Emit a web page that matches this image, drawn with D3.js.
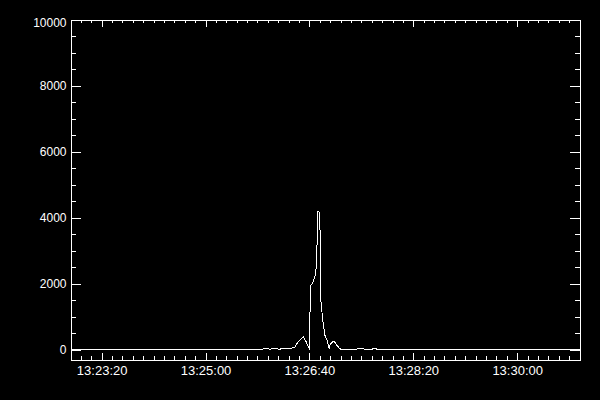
<!DOCTYPE html>
<html>
<head>
<meta charset="utf-8">
<script src="https://cdn.jsdelivr.net/npm/d3@7"></script>
<style>
    html, body { margin: 0; padding: 0; background: #000; }
    svg { display: block; }
    .axis text { font-family: 'Liberation Sans', Arial, sans-serif; fill: #FFF; }
    .axis line, .axis path { stroke: #FFF; shape-rendering: crispEdges; }
</style>
</head>
<body>
<div id="chart"></div>
<script>
// ========================================
// Light curve — IDL style plot (D3.js)
// ========================================

// Sample times and counts
const times = [
    '13:22:50', '13:25:54', '13:25:56', '13:26:00', '13:26:02', '13:26:04',
    '13:26:09', '13:26:11', '13:26:13', '13:26:21', '13:26:23', '13:26:26',
    '13:26:29', '13:26:33', '13:26:34', '13:26:37', '13:26:39', '13:26:40',
    '13:26:41', '13:26:43', '13:26:44', '13:26:46', '13:26:47', '13:26:48',
    '13:26:50', '13:26:51', '13:26:53', '13:26:55', '13:26:57', '13:26:59',
    '13:27:00', '13:27:03', '13:27:04', '13:27:06', '13:27:08', '13:27:10',
    '13:27:25', '13:27:26', '13:27:32', '13:27:34', '13:27:40', '13:27:41',
    '13:27:44', '13:27:45', '13:31:00'
];
const values = [
    0, 0, 30, 30, 0, 30,
    30, 0, 30, 30, 40, 80,
    230, 350, 400, 230, 80, 30,
    1950, 2000, 2100, 2300, 2700, 4190,
    4160, 1490, 840, 430, 280, 30,
    160, 250, 240, 150, 70, 10,
    0, 30, 30, 0, 0, 30,
    30, 0, 0
];

// Axis ranges and ticks
const xStart = '13:22:50';
const xEnd = '13:31:00';
const xTickLabels = ['13:23:20', '13:25:00', '13:26:40', '13:28:20', '13:30:00'];
const yDomain = [-300, 10000];
const yMajorTicks = [0, 2000, 4000, 6000, 8000, 10000];
const yMinorTicks = d3.range(0, 10001, 500);

(function () {
    'use strict';

    const W = 600, H = 400;
    const left = 70.5, right = 579.5, top = 19.5, bottom = 359.5;

    const parse = d3.timeParse('%H:%M:%S');
    const fmt = d3.timeFormat('%H:%M:%S');
    const data = times.map((t, i) => ({ t: parse(t), v: values[i] }));

    const svg = d3.select('#chart').append('svg')
        .attr('width', W)
        .attr('height', H);

    svg.append('rect').attr('width', W).attr('height', H).attr('fill', '#000');

    const x = d3.scaleTime().domain([parse(xStart), parse(xEnd)]).range([left, right]);
    const y = d3.scaleLinear().domain(yDomain).range([bottom, top]);

    const xMajor = xTickLabels.map(parse);
    const xMinor = x.ticks(d3.timeSecond.every(10));

    // Bottom axis: minor + major ticks pointing in, labels below
    svg.append('g').attr('class', 'axis')
        .attr('transform', `translate(0,${bottom})`)
        .call(d3.axisBottom(x).tickValues(xMinor).tickSize(-3.5).tickFormat(''));
    svg.append('g').attr('class', 'axis')
        .attr('transform', `translate(0,${bottom})`)
        .call(d3.axisBottom(x).tickValues(xMajor).tickSize(-7).tickPadding(6).tickFormat(fmt))
        .call(g => g.selectAll('text').attr('font-size', '13px').attr('dy', '0.75em'));

    // Top axis
    svg.append('g').attr('class', 'axis')
        .attr('transform', `translate(0,${top})`)
        .call(d3.axisTop(x).tickValues(xMinor).tickSize(-3.5).tickFormat(''));
    svg.append('g').attr('class', 'axis')
        .attr('transform', `translate(0,${top})`)
        .call(d3.axisTop(x).tickValues(xMajor).tickSize(-7).tickFormat(''));

    // Left axis with labels (top label sits just inside the frame, like IDL)
    svg.append('g').attr('class', 'axis')
        .attr('transform', `translate(${left},0)`)
        .call(d3.axisLeft(y).tickValues(yMinorTicks).tickSize(-5).tickFormat(''));
    svg.append('g').attr('class', 'axis')
        .attr('transform', `translate(${left},0)`)
        .call(d3.axisLeft(y).tickValues(yMajorTicks).tickSize(-10).tickPadding(4).tickFormat(d3.format('d')))
        .call(g => g.selectAll('text').attr('font-size', '12px'))
        .call(g => g.selectAll('text').filter(d => d === yDomain[1]).attr('dy', '0.62em'));

    // Right axis
    svg.append('g').attr('class', 'axis')
        .attr('transform', `translate(${right},0)`)
        .call(d3.axisRight(y).tickValues(yMinorTicks).tickSize(-5).tickFormat(''));
    svg.append('g').attr('class', 'axis')
        .attr('transform', `translate(${right},0)`)
        .call(d3.axisRight(y).tickValues(yMajorTicks).tickSize(-10).tickFormat(''));

    // Data line
    const line = d3.line()
        .x(d => x(d.t))
        .y(d => y(d.v));

    svg.append('path')
        .datum(data)
        .attr('d', line)
        .attr('fill', 'none')
        .attr('stroke', '#FFF')
        .attr('stroke-width', 1)
        .attr('shape-rendering', 'crispEdges');
})();
</script>
</body>
</html>
